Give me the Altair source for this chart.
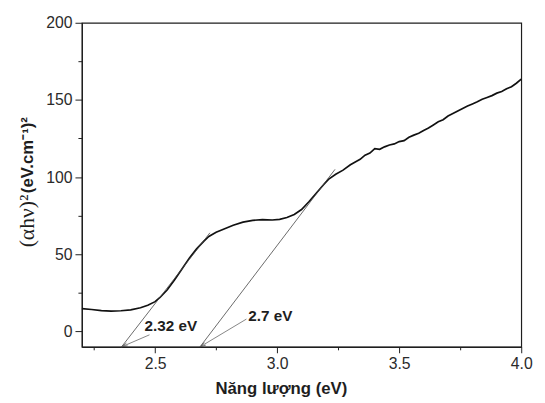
import altair as alt
import pandas as pd

# ---- data ----
energy = [2.20, 2.24, 2.28, 2.32, 2.36, 2.40, 2.44, 2.47, 2.50, 2.52, 2.55, 2.58, 2.61, 2.64,
          2.67, 2.70, 2.72, 2.75, 2.78, 2.82, 2.86, 2.90, 2.94, 2.98, 3.01, 3.04, 3.07, 3.10,
          3.13, 3.16, 3.19, 3.21, 3.24, 3.27, 3.30, 3.32, 3.34, 3.36, 3.38, 3.40, 3.42, 3.44,
          3.46, 3.48, 3.50, 3.52, 3.54, 3.56, 3.58, 3.60, 3.62, 3.64, 3.66, 3.68, 3.70, 3.72,
          3.74, 3.76, 3.78, 3.80, 3.82, 3.84, 3.86, 3.88, 3.90, 3.92, 3.94, 3.96, 3.98, 4.00]
absorb = [14.8, 14.2, 13.5, 13.2, 13.4, 14.0, 15.3, 17.0, 19.3, 22.0, 27.0, 33.5, 40.5, 47.5,
          53.5, 58.5, 61.5, 64.3, 66.2, 68.8, 70.8, 72.0, 72.4, 72.2, 72.6, 73.8, 75.8, 79.0,
          84.0, 89.5, 95.0, 98.5, 101.8, 104.5, 108.0, 109.8, 111.5, 114.2, 115.6, 118.4, 118.0, 119.6,
          120.8, 121.5, 123.0, 123.6, 125.8, 127.2, 128.4, 130.2, 131.8, 133.8, 135.8, 137.2, 139.6, 141.2,
          142.8, 144.4, 146.0, 147.4, 148.8, 150.4, 151.6, 152.8, 154.4, 155.4, 157.2, 158.6, 160.8, 163.5]

tan_x0 = [2.3626, 2.684]
tan_y0 = [-10.0, -10.0]
tan_x1 = [2.7246, 3.237]
tan_y1 = [63.9, 105.0]

lab_text = ["2.32 eV", "2.7 eV"]
lab_x = [2.457, 2.882]
lab_y = [3.7, 10.1]

arr_x0 = [2.477, 2.874]
arr_y0 = [-2.2, 8.0]
arr_x1 = [2.3626, 2.684]
arr_y1 = [-10.0, -10.0]
arr_angle = [246, 239]

x_major = [2.5, 3.0, 3.5, 4.0]
x_minor = [2.25, 2.75, 3.25, 3.75]
y_major = [0, 50, 100, 150, 200]
y_minor = [25, 75, 125, 175]

x_title = "Năng lượng (eV)"
y_title_a = "(αhν)²"
y_title_b = "(eV.cm⁻¹)²"

# ---- tables ----
curve_df = pd.DataFrame({"E": energy, "A": absorb})
tan_df = pd.DataFrame({"x0": tan_x0, "y0": tan_y0, "x1": tan_x1, "y1": tan_y1})
lab_df = pd.DataFrame({"t": lab_text, "x": lab_x, "y": lab_y})
arr_df = pd.DataFrame({"x0": arr_x0, "y0": arr_y0, "x1": arr_x1, "y1": arr_y1, "ang": arr_angle})

xs = alt.Scale(domain=[2.2, 4.0], nice=False, zero=False)
ys = alt.Scale(domain=[-10, 200], nice=False, zero=False)

INK = "#1e1e1e"
SANS = "Liberation Sans"

curve = alt.Chart(curve_df).mark_line(color="#111111", strokeWidth=1.7).encode(
    x=alt.X("E:Q", scale=xs, axis=alt.Axis(
        orient="bottom", values=x_major, format=".1f", title=x_title,
        tickSize=6, labelFontSize=16, labelPadding=3, labelFlush=False,
        titleFontSize=17, titleFontWeight="bold", titleX=202, titleY=47,
        titleAlign="center", titleBaseline="alphabetic")),
    y=alt.Y("A:Q", scale=ys, axis=alt.Axis(
        orient="left", values=y_major, format="d", title="",
        tickSize=7, labelFontSize=16, labelPadding=3, labelFlush=False)),
)

minor = alt.Chart(curve_df).mark_point(opacity=0).encode(
    x=alt.X("E:Q", scale=xs, axis=alt.Axis(
        orient="bottom", values=x_minor, labels=False, title="", tickSize=3, domain=False)),
    y=alt.Y("A:Q", scale=ys, axis=alt.Axis(
        orient="left", values=y_minor, labels=False, title="", tickSize=4, domain=False)),
)

tangents = alt.Chart(tan_df).mark_rule(color="#444444", strokeWidth=0.8).encode(
    x=alt.X("x0:Q", scale=xs, axis=None), y=alt.Y("y0:Q", scale=ys, axis=None),
    x2="x1:Q", y2="y1:Q",
)

arrows = alt.Chart(arr_df).mark_rule(color="#666666", strokeWidth=0.8).encode(
    x=alt.X("x0:Q", scale=xs, axis=None), y=alt.Y("y0:Q", scale=ys, axis=None),
    x2="x1:Q", y2="y1:Q",
)

heads = alt.Chart(arr_df).mark_point(
    shape="M-0.5,2L0,0L0.5,2", filled=False, size=36, color="#444444", strokeWidth=0.9
).encode(
    x=alt.X("x1:Q", scale=xs, axis=None), y=alt.Y("y1:Q", scale=ys, axis=None),
    angle=alt.Angle("ang:Q", scale=None),
)

labels = alt.Chart(lab_df).mark_text(
    align="left", baseline="middle", fontSize=15.5, fontWeight="bold", color=INK, font=SANS
).encode(
    x=alt.X("x:Q", scale=xs, axis=None), y=alt.Y("y:Q", scale=ys, axis=None), text="t:N",
)

ytitle_a = alt.Chart(pd.DataFrame({"t": [y_title_a]})).mark_text(
    angle=270, align="left", baseline="alphabetic", font="Liberation Serif",
    fontSize=22, color=INK
).encode(x=alt.value(-49), y=alt.value(228), text="t:N")

ytitle_b = alt.Chart(pd.DataFrame({"t": [y_title_b]})).mark_text(
    angle=270, align="left", baseline="alphabetic", font=SANS,
    fontSize=17, fontWeight="bold", color=INK
).encode(x=alt.value(-50), y=alt.value(173), text="t:N")

chart = alt.layer(
    curve, minor, tangents, arrows, heads, labels, ytitle_a, ytitle_b
).resolve_axis(
    x="independent", y="independent"
).properties(
    width=446, height=329,
    autosize=alt.AutoSizeParams(type="none"),
    padding={"left": 75, "top": 12, "right": 16, "bottom": 54},
).configure(
    font=SANS,
).configure_axis(
    grid=False, domainColor=INK, domainWidth=1.2, tickColor=INK, tickWidth=1,
    labelColor="#2a2a2a", labelFont=SANS, titleFont=SANS, titleColor=INK,
).configure_view(
    stroke=INK, strokeWidth=1.2,
)

chart.save("out.html", embed_options={"renderer": "svg", "actions": False})
